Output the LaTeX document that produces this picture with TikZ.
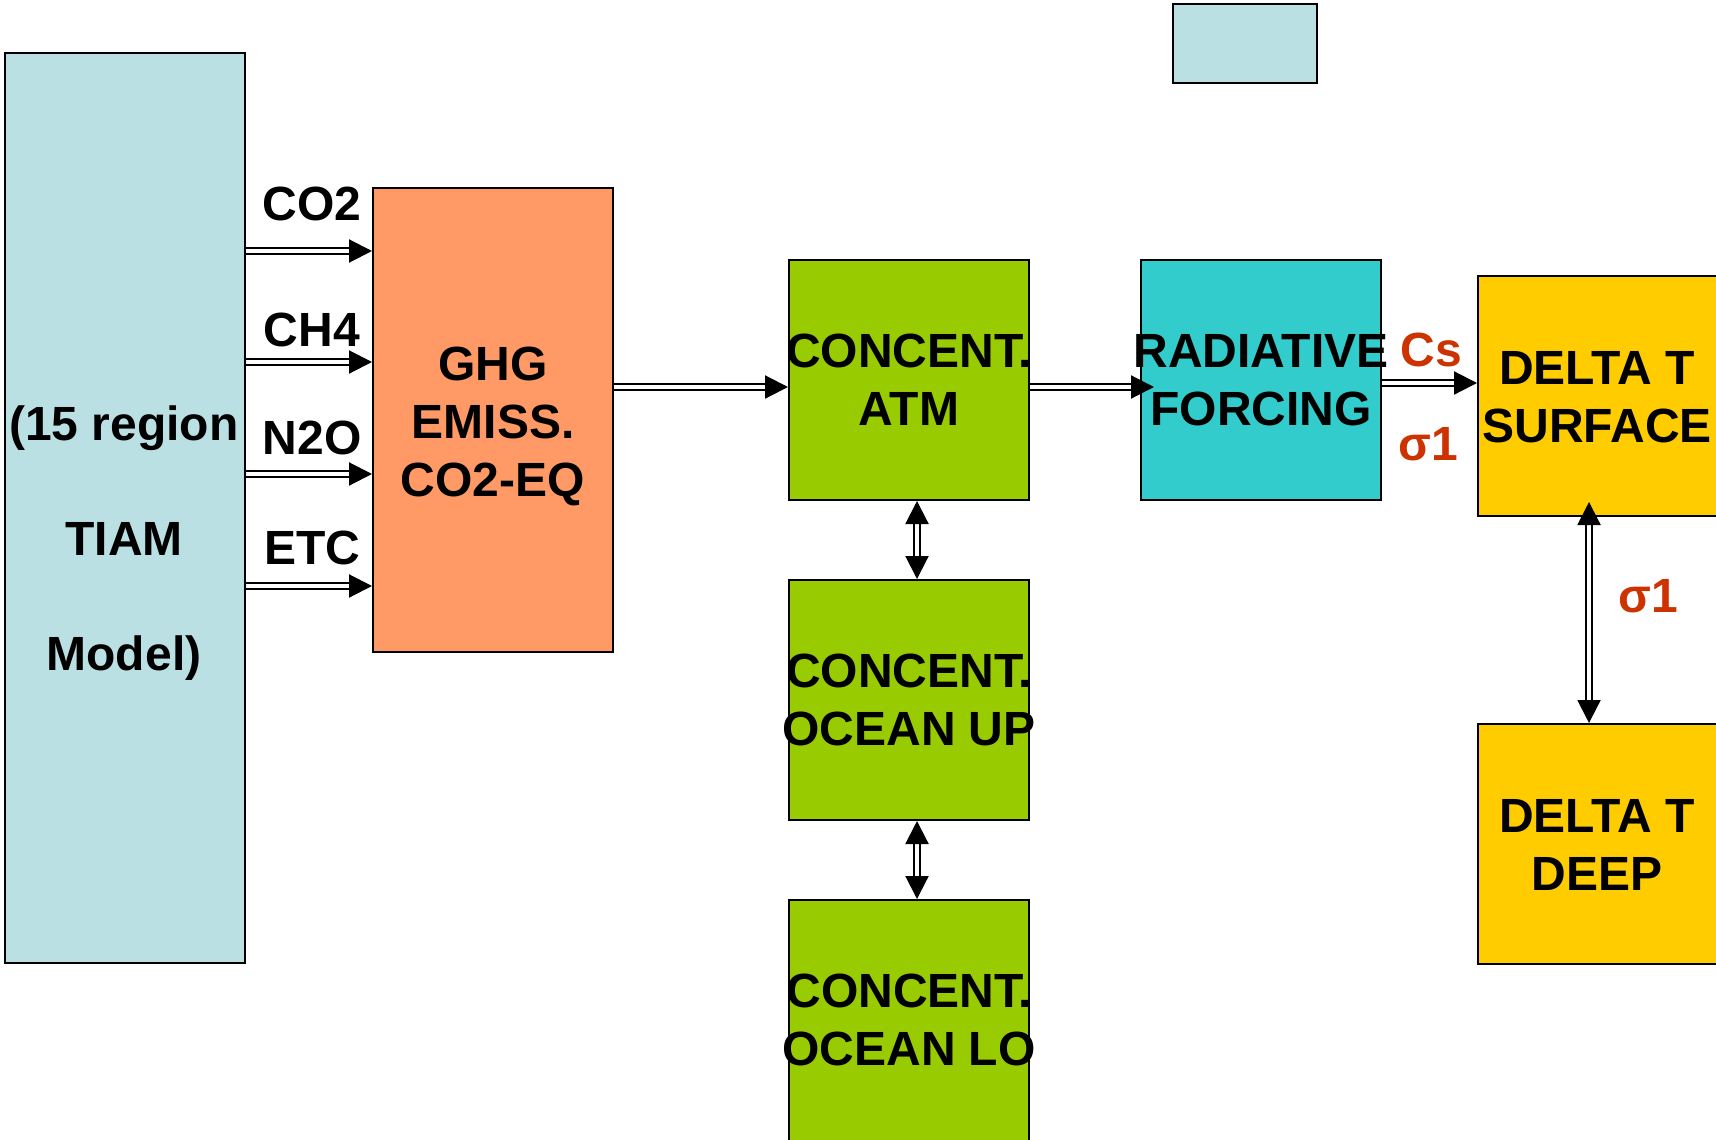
\documentclass[tikz,border=0pt]{standalone}
\usepackage{fontspec}
\setmainfont{Liberation Sans}
\usetikzlibrary{arrows.meta}
\definecolor{tiamblue}{HTML}{BBE0E3}
\definecolor{ghgorange}{HTML}{FF9966}
\definecolor{concgreen}{HTML}{99CC00}
\definecolor{radcyan}{HTML}{33CCCC}
\definecolor{deltayellow}{HTML}{FFCC00}
\definecolor{labelred}{HTML}{CC3300}

\begin{document}
\begin{tikzpicture}[
  x=0.5pt, y=-0.5pt,
  box/.style={draw, line width=1pt, minimum width=120pt, minimum height=120pt, inner sep=0pt},
  txt/.style={align=center, inner sep=0pt, font=\fontsize{24}{29}\selectfont\bfseries},
  lbl/.style={txt, text=labelred},
  arr/.style={double, double distance=1.7pt, line width=1.05pt, -{Triangle[length=11.5pt,width=11.5pt]}},
  darr/.style={arr, {Triangle[length=11.5pt,width=11.5pt]}-{Triangle[length=11.5pt,width=11.5pt]}}
]
  \useasboundingbox (0,0) rectangle (1716,1139);

  % boxes
  \node[box, fill=tiamblue, minimum height=455pt] (tiam) at (125,508) {};
  \node[box, fill=tiamblue, minimum width=72pt, minimum height=39.5pt] (legend) at (1245,43.5) {};
  \node[box, fill=ghgorange, minimum height=232pt] (ghg) at (493,420) {};
  \node[box, fill=concgreen] (atm) at (909,380) {};
  \node[box, fill=concgreen] (oceanup) at (909,700) {};
  \node[box, fill=concgreen, minimum height=125pt] (oceanlo) at (909,1025) {};
  \node[box, fill=radcyan] (rad) at (1261,380) {};
  \node[box, fill=deltayellow] (surf) at (1598,396) {};
  \node[box, fill=deltayellow] (deep) at (1598,844) {};

  % texts
  \node[txt, font=\fontsize{24}{57.5}\selectfont\bfseries] (tiamtxt) at (124,543) {(15 region\\TIAM\\Model)};
  \node[txt] (ghgtxt) at (493,426) {GHG\\EMISS.\\CO2-EQ};
  \node[txt] (atmtxt) at (atm) {CONCENT.\\ATM};
  \node[txt] (uptxt) at (oceanup) {CONCENT.\\OCEAN UP};
  \node[txt] (lotxt) at (909,1020) {CONCENT.\\OCEAN LO};
  \node[txt] (radtxt) at (rad) {RADIATIVE\\FORCING};
  \node[txt] (surftxt) at (1597,397) {DELTA T\\SURFACE};
  \node[txt] (deeptxt) at (1597,845) {DELTA T\\DEEP};

  % emissions
  \foreach \gas/\ly/\ay in {CO2/204/251, CH4/330/362, N2O/438/474, ETC/548/586} {
    \node[txt] (\gas) at (312,\ly) {\gas};
    \draw[arr] (tiam.east |- 0,\ay) -- (ghg.west |- 0,\ay);
  }

  \draw[arr] (ghg.east |- 0,387) -- (atm.west |- 0,387);
  \draw[arr, shorten >=-7pt] (atm.east |- 0,387) -- (rad.west |- 0,387);
  \draw[arr] (rad.east |- 0,383) -- (surf.west |- 0,383);
  \draw[darr] (atm.south -| 917,0) -- (oceanup.north -| 917,0);
  \draw[darr] (oceanup.south -| 917,0) -- (oceanlo.north -| 917,0);
  \draw[darr, shorten <=-7.5pt] (surf.south -| 1589,0) -- (deep.north -| 1589,0);

  \node[lbl] (cs) at (1431,350) {Cs};
  \node[lbl] (sigrad) at (1428,444) {σ1};
  \node[lbl] (sigdeep) at (1648,596) {σ1};
\end{tikzpicture}
\end{document}
